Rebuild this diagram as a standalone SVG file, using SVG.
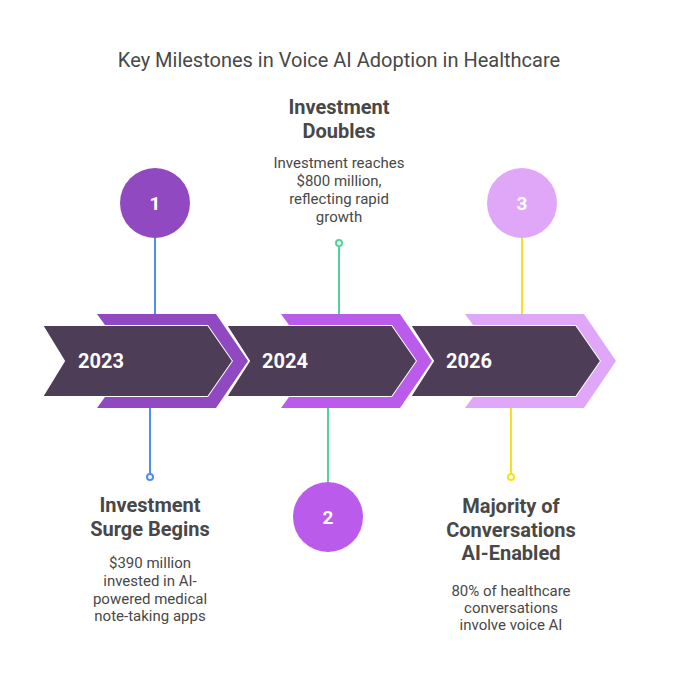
<svg xmlns="http://www.w3.org/2000/svg" width="679" height="685" viewBox="0 0 679 685">
<style>
.title{font-family:Roboto,"Liberation Sans",sans-serif;font-size:20px;fill:#484848;text-anchor:middle}
.year{font-family:Roboto,"Liberation Sans",sans-serif;font-size:20px;font-weight:bold;fill:#ffffff}
.num{font-family:Roboto,"Liberation Sans",sans-serif;font-size:19px;font-weight:bold;fill:#ffffff;text-anchor:middle}
.head{font-family:Roboto,"Liberation Sans",sans-serif;font-size:20px;font-weight:bold;fill:#484848;text-anchor:middle}
.desc{font-family:Roboto,"Liberation Sans",sans-serif;font-size:15px;fill:#484848;text-anchor:middle}
.dark{fill:#4e3d57;stroke:#ffffff;stroke-width:2}
.line{stroke-width:2;fill:none}
.dot{stroke-width:2;fill:#ffffff}
</style>
<rect width="679" height="685" fill="#ffffff"/>
<text class="title" x="339" y="67">Key Milestones in Voice AI Adoption in Healthcare</text>
<g id="connectors">
<line class="line" stroke="#4e8ef0" x1="155" y1="238" x2="155" y2="314"/>
<line class="line" stroke="#4e8ef0" x1="150" y1="408" x2="150" y2="474"/>
<circle class="dot" stroke="#4e8ef0" cx="150" cy="477" r="3"/>
<line class="line" stroke="#4fd49a" x1="339" y1="246" x2="339" y2="314"/>
<circle class="dot" stroke="#4fd49a" cx="339" cy="243" r="3"/>
<line class="line" stroke="#4fd49a" x1="328" y1="408" x2="328" y2="482"/>
<line class="line" stroke="#f7e01e" x1="522" y1="238" x2="522" y2="314"/>
<line class="line" stroke="#f7e01e" x1="511" y1="408" x2="511" y2="474"/>
<circle class="dot" stroke="#f7e01e" cx="511" cy="477" r="3"/>
</g>
<g id="seg3">
<polygon class="dark" points="410,325 576,325 601,361 576,397 410,397 433,361"/>
<polygon fill="#e0a6f8" points="465,314 584,314 616,361 584,408 465,408 473,397 576,397 601,361 576,325 473,325"/>
<text class="year" x="446" y="368">2026</text>
</g>
<g id="seg2">
<polygon class="dark" points="226,325 392,325 417,361 392,397 226,397 249,361"/>
<polygon fill="#bb5beb" points="281,314 400,314 432,361 400,408 281,408 289,397 392,397 417,361 392,325 289,325"/>
<text class="year" x="262" y="368">2024</text>
</g>
<g id="seg1">
<polygon class="dark" points="42,325 208,325 233,361 208,397 42,397 64,361"/>
<polygon fill="#9149c1" points="97,314 216,314 248,361 216,408 97,408 105,397 208,397 233,361 208,325 105,325"/>
<text class="year" x="78" y="368">2023</text>
</g>
<g id="node1">
<circle cx="155" cy="203" r="35" fill="#9149c1"/>
<text class="num" x="155" y="210">1</text>
<text class="head" x="150" y="512">Investment</text>
<text class="head" x="150" y="536">Surge Begins</text>
<text class="desc" x="150" y="568">$390 million</text>
<text class="desc" x="150" y="586">invested in AI-</text>
<text class="desc" x="150" y="604">powered medical</text>
<text class="desc" x="150" y="621">note-taking apps</text>
</g>
<g id="node2">
<circle cx="328" cy="517" r="35" fill="#bb5beb"/>
<text class="num" x="328" y="524">2</text>
<text class="head" x="339" y="114">Investment</text>
<text class="head" x="339" y="138">Doubles</text>
<text class="desc" x="339" y="168">Investment reaches</text>
<text class="desc" x="339" y="186">$800 million,</text>
<text class="desc" x="339" y="204">reflecting rapid</text>
<text class="desc" x="339" y="222">growth</text>
</g>
<g id="node3">
<circle cx="522" cy="203" r="35" fill="#e0a6f8"/>
<text class="num" x="522" y="210">3</text>
<text class="head" x="511" y="513">Majority of</text>
<text class="head" x="511" y="537">Conversations</text>
<text class="head" x="511" y="560">AI-Enabled</text>
<text class="desc" x="511" y="596">80% of healthcare</text>
<text class="desc" x="511" y="613">conversations</text>
<text class="desc" x="511" y="630">involve voice AI</text>
</g>
</svg>
